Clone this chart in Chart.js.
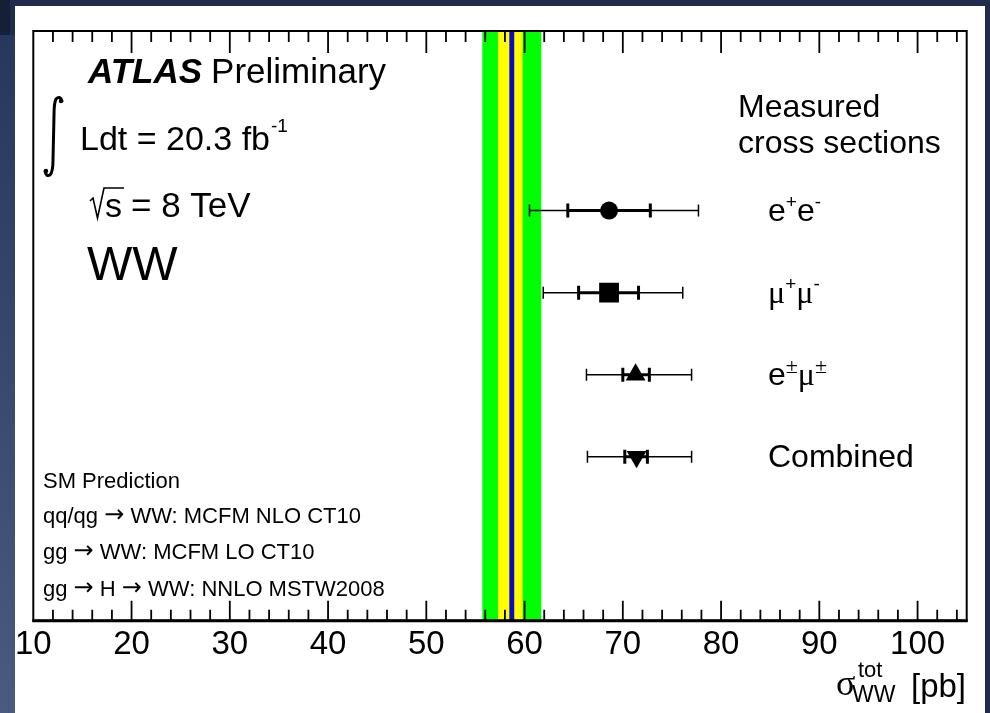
<!DOCTYPE html>
<html>
<head>
<meta charset="utf-8">
<script src="https://cdn.jsdelivr.net/npm/chart.js@4.4.1/dist/chart.umd.min.js"></script>
<style>
  html, body { margin: 0; padding: 0; background: #1f2c4b; }
  canvas { display: block; }
</style>
</head>
<body>
<canvas id="wwChart" width="990" height="713"></canvas>
<script>
// WW cross sections per channel, pb
const channels = ['e+e-', 'μ+μ-', 'e±μ±', 'Combined'];
const xsec   = [68.6, 68.6, 71.3, 71.4];
const statLo = [64.4, 65.5, 70.0, 70.2];
const statHi = [72.8, 71.6, 72.7, 72.5];
const totLo  = [60.5, 61.9, 66.3, 66.4];
const totHi  = [77.7, 76.1, 77.0, 77.0];
const markers   = ['circle', 'rect', 'triangle', 'triangle'];
const markerRot = [0, 0, 0, 180];
const markerR   = [9, 14, 11.5, 11.5];

// SM prediction and its uncertainty bands
const smCentral = 58.7;
const smInner = [57.3, 59.8];
const smOuter = [55.7, 61.7];

const xTickLabels = [10, 20, 30, 40, 50, 60, 70, 80, 90, 100];

const rows = channels.map((c, i) => i + 1);

const SANS = '"Liberation Sans", Arial, "DejaVu Sans", sans-serif';
const SERIF = '"Liberation Serif", "Times New Roman", "DejaVu Serif", serif';

function errorSet(lo, hi, width, capR) {
  return rows.map((r, i) => ({
    type: 'scatter',
    data: [{ x: lo[i], y: r }, { x: hi[i], y: r }],
    showLine: true,
    borderColor: '#000',
    borderWidth: width,
    pointStyle: 'line',
    pointRotation: 90,
    pointRadius: capR,
    pointBorderColor: '#000',
    pointBorderWidth: width,
    order: 2
  }));
}

const datasets = [
  {
    type: 'scatter',
    data: rows.map((r, i) => ({ x: xsec[i], y: r })),
    pointStyle: markers,
    pointRotation: markerRot,
    pointRadius: markerR,
    backgroundColor: '#000',
    borderColor: '#000',
    pointBorderWidth: 0,
    order: 0
  },
  ...errorSet(statLo, statHi, 3, 7),
  ...errorSet(totLo, totHi, 1.5, 6)
];

function drawRich(ctx, x, y, parts) {
  let cx = x;
  for (const [t, font, dy] of parts) {
    ctx.font = font;
    ctx.fillText(t, cx, y + dy);
    cx += ctx.measureText(t).width;
  }
  return cx;
}

// e+e- style labels: charges become superscripts, mu and +- use the serif face
function labelParts(label) {
  const parts = [];
  let buf = '';
  const flush = () => { if (buf) { parts.push([buf, '32px ' + SANS, 0]); buf = ''; } };
  for (const ch of label) {
    if (ch === '+' || ch === '-') { flush(); parts.push([ch, '19px ' + SANS, -13]); }
    else if (ch === '±') { flush(); parts.push([ch, '22px ' + SERIF, -12]); }
    else if (ch === 'μ') { flush(); parts.push([ch, '32px ' + SERIF, 0]); }
    else buf += ch;
  }
  flush();
  return parts;
}

// note lines with arrows: arrows from DejaVu, centred on the text
function drawNote(ctx, x, y, text) {
  const font = '22px ' + SANS;
  const arrow = '24px "DejaVu Sans", ' + SANS;
  const parts = [];
  text.split('\u2192').forEach((seg, i) => {
    if (i > 0) parts.push(['\u2192', arrow, -1]);
    parts.push([seg, font, 0]);
  });
  drawRich(ctx, x, y, parts);
}

const decor = {
  id: 'decor',
  beforeDraw(chart) {
    const ctx = chart.ctx;
    ctx.save();
    ctx.fillStyle = '#1f2c4b';
    ctx.fillRect(0, 0, 990, 713);
    const g = ctx.createLinearGradient(0, 0, 0, 713);
    g.addColorStop(0, '#26355a');
    g.addColorStop(1, '#4b5b7d');
    ctx.fillStyle = g;
    ctx.fillRect(0, 35, 15, 678);
    ctx.fillStyle = '#161f38';
    ctx.fillRect(0, 0, 10, 35);
    ctx.fillStyle = '#fff';
    ctx.fillRect(15, 6, 970, 707);
    ctx.restore();
  },
  beforeDatasetsDraw(chart) {
    const { ctx, chartArea: a, scales: { x } } = chart;
    ctx.save();
    const band = (lo, hi, col) => {
      const l = x.getPixelForValue(lo), r = x.getPixelForValue(hi);
      ctx.fillStyle = col;
      ctx.fillRect(l, a.top, r - l, a.bottom - a.top);
    };
    band(smOuter[0], smOuter[1], '#00ff00');
    band(smInner[0], smInner[1], '#ffff00');
    band(smCentral - 0.25, smCentral + 0.25, '#0a0ac8');
    ctx.restore();
  },
  afterDraw(chart) {
    const { ctx, chartArea: a, scales: { x } } = chart;
    ctx.save();
    ctx.strokeStyle = '#000';
    ctx.fillStyle = '#000';

    // tick marks pointing into the frame, top and bottom
    ctx.lineWidth = 1.8;
    ctx.beginPath();
    for (let v = 12; v < 105; v += 2) {
      const px = x.getPixelForValue(v);
      const major = v % 10 === 0;
      ctx.moveTo(px, a.bottom);
      ctx.lineTo(px, a.bottom - (major ? 20 : 11));
      ctx.moveTo(px, a.top);
      ctx.lineTo(px, a.top + (major ? 22 : 11));
    }
    ctx.stroke();

    // frame
    ctx.lineWidth = 2;
    ctx.strokeRect(a.left, a.top, a.right - a.left, a.bottom - a.top);
    ctx.lineWidth = 3;
    ctx.beginPath();
    ctx.moveTo(a.left - 1, a.bottom);
    ctx.lineTo(a.right + 1, a.bottom);
    ctx.stroke();

    ctx.textBaseline = 'alphabetic';
    ctx.textAlign = 'left';

    // ATLAS label block
    let cx = drawRich(ctx, 88, 83, [['ATLAS', 'italic bold 35px ' + SANS, 0]]);
    drawRich(ctx, cx + 9, 83, [['Preliminary', '35px ' + SANS, 0]]);

    // integral sign
    ctx.lineWidth = 3;
    ctx.lineCap = 'round';
    ctx.beginPath();
    ctx.moveTo(62, 101);
    ctx.quadraticCurveTo(60, 95, 56, 99);
    ctx.quadraticCurveTo(54, 103, 54, 115);
    ctx.lineTo(53, 160);
    ctx.quadraticCurveTo(53, 172, 50, 175);
    ctx.quadraticCurveTo(46, 177, 45, 171);
    ctx.stroke();
    ctx.beginPath();
    ctx.arc(61, 101, 2.2, 0, Math.PI * 2);
    ctx.arc(46, 171, 2.2, 0, Math.PI * 2);
    ctx.fill();

    cx = drawRich(ctx, 80, 150, [['Ldt = 20.3 fb', '34px ' + SANS, 0]]);
    drawRich(ctx, cx + 1, 132, [['-1', '19px ' + SANS, 0]]);

    // sqrt(s) with overbar
    ctx.lineWidth = 1.6;
    ctx.lineCap = 'butt';
    ctx.beginPath();
    ctx.moveTo(90, 201);
    ctx.lineTo(93, 198);
    ctx.lineTo(97.5, 218);
    ctx.lineTo(104, 188);
    ctx.lineTo(124, 188);
    ctx.stroke();
    cx = drawRich(ctx, 105, 217, [['s', '34px ' + SANS, 0]]);
    drawRich(ctx, cx + 9, 217, [['= 8 TeV', '35px ' + SANS, 0]]);

    drawRich(ctx, 87, 280, [['WW', '48px ' + SANS, 0]]);

    // SM prediction notes
    drawNote(ctx, 43, 488, 'SM Prediction');
    drawNote(ctx, 43, 523, 'qq/qg \u2192 WW: MCFM NLO CT10');
    drawNote(ctx, 43, 559, 'gg \u2192 WW: MCFM LO CT10');
    drawNote(ctx, 43, 596, 'gg \u2192 H \u2192 WW: NNLO MSTW2008');

    // legend heading and channel names
    drawRich(ctx, 738, 117, [['Measured', '32px ' + SANS, 0]]);
    drawRich(ctx, 738, 153, [['cross sections', '32px ' + SANS, 0]]);
    const y = chart.scales.y;
    channels.forEach((c, i) => {
      drawRich(ctx, 768, y.getPixelForValue(rows[i]) + 10, labelParts(c));
    });

    // axis title
    drawRich(ctx, 836, 695, [['σ', '36px ' + SERIF, 0]]);
    drawRich(ctx, 858, 677, [['tot', '22px ' + SANS, 0]]);
    drawRich(ctx, 852, 702, [['WW', '23px ' + SANS, 0]]);
    drawRich(ctx, 911, 697, [['[pb]', '33px ' + SANS, 0]]);

    ctx.restore();
  }
};

new Chart(document.getElementById('wwChart'), {
  type: 'scatter',
  data: { datasets },
  options: {
    responsive: false,
    animation: false,
    events: [],
    layout: { padding: { left: 33.3, right: 23.3, top: 31, bottom: 0 } },
    plugins: { legend: { display: false }, tooltip: { enabled: false } },
    scales: {
      x: {
        type: 'linear',
        min: 10,
        max: 105,
        grid: { display: false, drawTicks: false },
        border: { display: false },
        afterFit: s => { s.height = 92.3; },
        afterBuildTicks: s => { s.ticks = xTickLabels.map(v => ({ value: v })); },
        ticks: {
          stepSize: 10,
          includeBounds: false,
          autoSkip: false,
          maxRotation: 0,
          padding: 4,
          color: '#000',
          font: { family: SANS, size: 33 }
        }
      },
      y: {
        type: 'linear',
        display: false,
        reverse: true,
        min: -1.19,
        max: 6.0
      }
    }
  },
  plugins: [decor]
});
</script>
</body>
</html>
